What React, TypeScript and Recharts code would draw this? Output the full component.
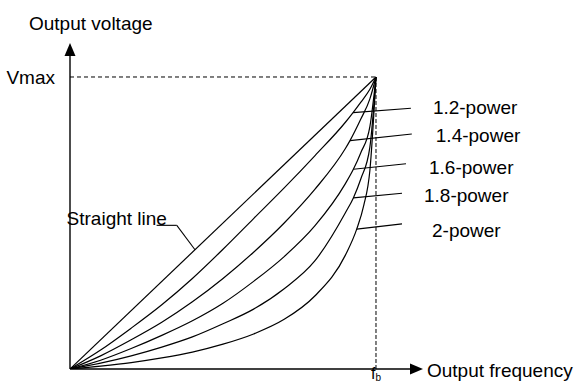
import { LineChart, Line, XAxis, YAxis, ReferenceLine, ReferenceDot } from 'recharts';

// normalised output frequency (f / fb) and output voltage (V / Vmax)
const straightLine = [
    { x: 0, y: 0 },
    { x: 1, y: 1 },
];
const power12 = [
    { x: 0, y: 0 }, { x: 0.1, y: 0.065 }, { x: 0.2, y: 0.14 }, { x: 0.3, y: 0.22 }, { x: 0.4, y: 0.31 },
    { x: 0.5, y: 0.41 }, { x: 0.6, y: 0.515 }, { x: 0.7, y: 0.62 }, { x: 0.8, y: 0.73 }, { x: 0.9, y: 0.845 },
    { x: 0.925, y: 0.878 }, { x: 0.95, y: 0.913 }, { x: 0.98, y: 0.958 }, { x: 1, y: 1 },
];
const power14 = [
    { x: 0, y: 0 }, { x: 0.1, y: 0.045 }, { x: 0.2, y: 0.1 }, { x: 0.3, y: 0.16 }, { x: 0.4, y: 0.23 },
    { x: 0.5, y: 0.31 }, { x: 0.6, y: 0.4 }, { x: 0.7, y: 0.5 }, { x: 0.8, y: 0.615 }, { x: 0.9, y: 0.755 },
    { x: 0.915, y: 0.782 }, { x: 0.95, y: 0.855 }, { x: 0.98, y: 0.925 }, { x: 1, y: 1 },
];
const power16 = [
    { x: 0, y: 0 }, { x: 0.1, y: 0.03 }, { x: 0.2, y: 0.07 }, { x: 0.3, y: 0.115 }, { x: 0.4, y: 0.165 },
    { x: 0.5, y: 0.225 }, { x: 0.6, y: 0.3 }, { x: 0.7, y: 0.385 }, { x: 0.8, y: 0.49 }, { x: 0.9, y: 0.635 },
    { x: 0.926, y: 0.684 }, { x: 0.95, y: 0.74 }, { x: 0.98, y: 0.83 }, { x: 1, y: 1 },
];
const power18 = [
    { x: 0, y: 0 }, { x: 0.1, y: 0.02 }, { x: 0.2, y: 0.045 }, { x: 0.3, y: 0.075 }, { x: 0.4, y: 0.11 },
    { x: 0.5, y: 0.155 }, { x: 0.6, y: 0.205 }, { x: 0.7, y: 0.275 }, { x: 0.8, y: 0.37 }, { x: 0.9, y: 0.535 },
    { x: 0.926, y: 0.586 }, { x: 0.95, y: 0.65 }, { x: 0.98, y: 0.76 }, { x: 1, y: 1 },
];
const power20 = [
    { x: 0, y: 0 }, { x: 0.1, y: 0.01 }, { x: 0.2, y: 0.022 }, { x: 0.3, y: 0.038 }, { x: 0.4, y: 0.058 },
    { x: 0.5, y: 0.085 }, { x: 0.6, y: 0.12 }, { x: 0.7, y: 0.17 }, { x: 0.8, y: 0.25 }, { x: 0.9, y: 0.39 },
    { x: 0.937, y: 0.479 }, { x: 0.96, y: 0.56 }, { x: 0.98, y: 0.68 }, { x: 1, y: 1 },
];

const seriesList = [straightLine, power12, power14, power16, power18, power20];

const curveLabels = ['1.2-power', '1.4-power', '1.6-power', '1.8-power', '2-power'];
// leader lines: start on the curve, end near the label
const leaderStarts = [
    { x: 0.925, y: 0.878 },
    { x: 0.915, y: 0.782 },
    { x: 0.926, y: 0.684 },
    { x: 0.926, y: 0.586 },
    { x: 0.937, y: 0.479 },
];
const leaderEnds = [
    { x: 1.114, y: 0.893 },
    { x: 1.117, y: 0.805 },
    { x: 1.098, y: 0.703 },
    { x: 1.085, y: 0.602 },
    { x: 1.085, y: 0.497 },
];
const straightLeader = [
    { x: 0.4085, y: 0.4085 },
    { x: 0.349, y: 0.492 },
    { x: 0.283, y: 0.492 },
];

const xTop = 1.1536;
const yTop = 1.1164;

// pixel offsets of the label text from the leader end
const labelOffsets = [
    { dx: 22, dy: -1 },
    { dx: 24, dy: 1 },
    { dx: 23, dy: 3 },
    { dx: 22, dy: 2 },
    { dx: 30, dy: 6 },
];

const font = { fontFamily: 'Liberation Sans, Arial, sans-serif', fontSize: 19, fill: '#000' };

const ArrowLine = (props: any) => {
    const { x1, y1, x2, y2 } = props;
    const len = Math.hypot(x2 - x1, y2 - y1) || 1;
    const ux = (x2 - x1) / len;
    const uy = (y2 - y1) / len;
    const head = 13;
    const half = 5.5;
    const bx = x2 - ux * head;
    const by = y2 - uy * head;
    return (
        <g>
            <line x1={x1} y1={y1} x2={bx} y2={by} stroke="#000" strokeWidth={1.4} />
            <polygon
                points={`${x2},${y2} ${bx - uy * half},${by + ux * half} ${bx + uy * half},${by - ux * half}`}
                fill="#000"
            />
        </g>
    );
};

const textAt = (text: string, dx: number, dy: number, anchor = 'start') => (props: any) => {
    const vb = props.viewBox || {};
    return (
        <text x={vb.x + dx} y={vb.y + dy} textAnchor={anchor} {...font}>
            {text}
        </text>
    );
};

const App = () => {
    return (
        <div style={{ position: 'absolute', left: 0, top: 0, background: '#fff' }}>
            <LineChart width={581} height={385} margin={{ top: 43, right: 158, bottom: 0, left: 0 }}>
                <XAxis
                    type="number"
                    dataKey="x"
                    domain={[0, xTop]}
                    ticks={[1]}
                    axisLine={false}
                    tickLine={false}
                    tickSize={0}
                    height={16}
                    allowDataOverflow
                    tick={(p: any) => (
                        <text x={p.x - 5} y={p.y + 8} {...font} fontSize={16}>
                            f<tspan fontSize={10} dy={2}>b</tspan>
                        </text>
                    )}
                />
                <YAxis
                    type="number"
                    dataKey="y"
                    domain={[0, yTop]}
                    ticks={[1]}
                    axisLine={false}
                    tickLine={false}
                    tickSize={0}
                    width={70}
                    allowDataOverflow
                    tick={(p: any) => (
                        <text x={p.x - 13} y={p.y + 7} textAnchor="end" {...font}>
                            Vmax
                        </text>
                    )}
                />

                {/* Vmax / fb guides */}
                <ReferenceLine segment={[{ x: 0, y: 1 }, { x: 1, y: 1 }]} stroke="#000" strokeDasharray="4 3" />
                <ReferenceLine segment={[{ x: 1, y: 1 }, { x: 1, y: 0 }]} stroke="#000" strokeDasharray="4 2" />

                {/* axes with arrow heads */}
                <ReferenceLine segment={[{ x: 0, y: 0 }, { x: xTop, y: 0 }]} shape={ArrowLine} />
                <ReferenceLine segment={[{ x: 0, y: 0 }, { x: 0, y: yTop }]} shape={ArrowLine} />

                {seriesList.map((d, i) => (
                    <Line
                        key={i}
                        data={d}
                        dataKey="y"
                        type="monotone"
                        stroke="#000"
                        strokeWidth={1.2}
                        dot={false}
                        activeDot={false}
                        isAnimationActive={false}
                    />
                ))}

                {leaderStarts.map((s, i) => (
                    <ReferenceLine key={`l${i}`} segment={[s, leaderEnds[i]]} stroke="#000" strokeWidth={1.1} />
                ))}
                {leaderEnds.map((e, i) => (
                    <ReferenceDot
                        key={`t${i}`}
                        x={e.x}
                        y={e.y}
                        r={0}
                        stroke="none"
                        fill="none"
                        label={{ content: textAt(curveLabels[i], labelOffsets[i].dx, labelOffsets[i].dy + 7) }}
                    />
                ))}

                <ReferenceLine segment={[straightLeader[0], straightLeader[1]]} stroke="#000" strokeWidth={1.1} />
                <ReferenceLine segment={[straightLeader[1], straightLeader[2]]} stroke="#000" strokeWidth={1.1} />
                <ReferenceDot
                    x={straightLeader[2].x}
                    y={straightLeader[2].y}
                    r={0}
                    stroke="none"
                    fill="none"
                    label={{ content: textAt('Straight line', -90, 0) }}
                />

                <ReferenceDot
                    x={0}
                    y={yTop}
                    r={0}
                    stroke="none"
                    fill="none"
                    label={{ content: textAt('Output voltage', -41, -13) }}
                />
                <ReferenceDot
                    x={xTop}
                    y={0}
                    r={0}
                    stroke="none"
                    fill="none"
                    label={{ content: textAt('Output frequency', 4, 8) }}
                />
            </LineChart>
        </div>
    );
};

export default App;
